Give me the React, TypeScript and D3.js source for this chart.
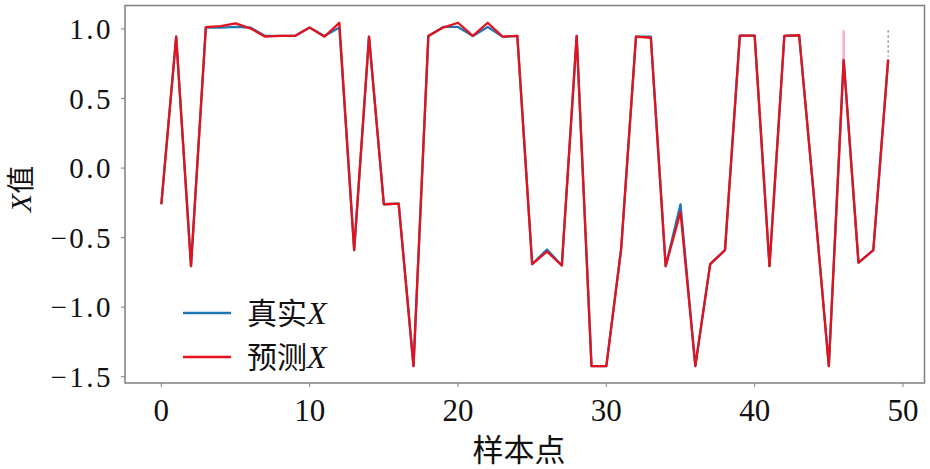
import React from "react";
import * as d3 from "d3";

const sampleIdx: number[] = Array.from({ length: 50 }, (_, i) => i);
const trueX: number[] = [
  -0.26, 0.945, -0.705, 1.01, 1.01, 1.015, 1.01, 0.95, 0.95, 0.95,
  1.01, 0.95, 1.01, -0.59, 0.945, -0.26, -0.255, -1.424, 0.95, 1.015,
  1.015, 0.95, 1.015, 0.945, 0.95, -0.69, -0.585, -0.7, 0.95, -1.424,
  -1.424, -0.58, 0.945, 0.945, -0.705, -0.26, -1.424, -0.69, -0.59, 0.952,
  0.952, -0.705, 0.95, 0.955, -0.21, -1.424, 0.78, -0.68, -0.59, 0.78,
];
const predX: number[] = [
  -0.26, 0.945, -0.705, 1.014, 1.02, 1.04, 1.005, 0.945, 0.95, 0.95,
  1.01, 0.945, 1.045, -0.59, 0.945, -0.26, -0.255, -1.424, 0.95, 1.01,
  1.045, 0.95, 1.045, 0.945, 0.95, -0.69, -0.6, -0.7, 0.95, -1.424,
  -1.424, -0.58, 0.945, 0.937, -0.705, -0.315, -1.424, -0.69, -0.59, 0.952,
  0.952, -0.705, 0.95, 0.955, -0.21, -1.424, 0.78, -0.68, -0.59, 0.78,
];
const xTicks: number[] = [0, 10, 20, 30, 40, 50];
const yTicks: number[] = [1.0, 0.5, 0.0, -0.5, -1.0, -1.5];
const spikeX: number[] = [46, 49];
const spikeTop: number[] = [0.99, 0.99];
const spikeBottom: number[] = [0.78, 0.8];
const legendLabels: string[] = ["真实", "预测"];

const W = 930;
const H = 469;
const L = 125, R = 924.5, T = 5.5, B = 383;

const serif = "'Liberation Serif', 'DejaVu Serif', serif";
const cjk = "'Noto Sans CJK SC', sans-serif";

export default function App() {
  const x = d3.scaleLinear().domain([-2.45, 51.45]).range([L, R]);
  const y = d3.scaleLinear().domain([1.169, -1.545]).range([T, B]);
  const line = d3
    .line<number>()
    .x((_, i) => x(sampleIdx[i]))
    .y((d) => y(d));

  const fmtY = (v: number) => (v < 0 ? "\u2212" : "") + Math.abs(v).toFixed(1);

  return (
    <svg
      width={W}
      height={H}
      style={{ position: "absolute", left: 0, top: 0, background: "#fff" }}
    >
      <rect x={0} y={0} width={W} height={H} fill="#fff" />
      <path d={line(trueX) || ""} fill="none" stroke="#1f77b4" strokeWidth={2.3} strokeLinejoin="round" />
      <path d={line(predX) || ""} fill="none" stroke="#e3121c" strokeWidth={2.3} strokeLinejoin="round" />
      {spikeX.map((s, i) => (
        <line
          key={"sp" + i}
          x1={x(s)}
          x2={x(s)}
          y1={y(spikeTop[i])}
          y2={y(spikeBottom[i])}
          stroke={i === 0 ? "#f4a0b0" : "#555"}
          strokeWidth={i === 0 ? 2.5 : 1.2}
          strokeDasharray={i === 0 ? undefined : "2 3"}
          opacity={0.85}
        />
      ))}
      <rect x={L} y={T} width={R - L} height={B - T} fill="none" stroke="#7f7f7f" strokeWidth={1.5} />
      {xTicks.map((t) => (
        <g key={"xt" + t}>
          <line x1={x(t)} x2={x(t)} y1={B} y2={B + 4} stroke="#7f7f7f" strokeWidth={1} />
          <text x={x(t)} y={421} textAnchor="middle" fontFamily={serif} fontSize={31} fill="#111">
            {t}
          </text>
        </g>
      ))}
      {yTicks.map((t) => (
        <g key={"yt" + t}>
          <line x1={L - 4} x2={L} y1={y(t)} y2={y(t)} stroke="#7f7f7f" strokeWidth={1} />
          <text
            x={113}
            y={y(t) + 10}
            textAnchor="end"
            fontFamily={serif}
            fontSize={29}
            letterSpacing={2.5}
            fill="#111"
          >
            {fmtY(t)}
          </text>
        </g>
      ))}
      <text x={519} y={461} textAnchor="middle" fontFamily={cjk} fontSize={31} fill="#111">
        样本点
      </text>
      <g transform="translate(31,189) rotate(-90)">
        <text x={0} y={0} textAnchor="middle" fill="#111">
          <tspan fontFamily={serif} fontStyle="italic" fontSize={30}>X</tspan>
          <tspan fontFamily={cjk} fontSize={28}>值</tspan>
        </text>
      </g>
      {legendLabels.map((lab, i) => {
        const ly = i === 0 ? 313 : 357;
        return (
          <g key={"lg" + i}>
            <line
              x1={183}
              x2={231}
              y1={ly}
              y2={ly}
              stroke={i === 0 ? "#1f77b4" : "#e3121c"}
              strokeWidth={2.3}
            />
            <text x={247} y={ly + 11} fill="#111">
              <tspan fontFamily={cjk} fontSize={30}>{lab}</tspan>
              <tspan fontFamily={serif} fontStyle="italic" fontSize={32}>X</tspan>
            </text>
          </g>
        );
      })}
    </svg>
  );
}
